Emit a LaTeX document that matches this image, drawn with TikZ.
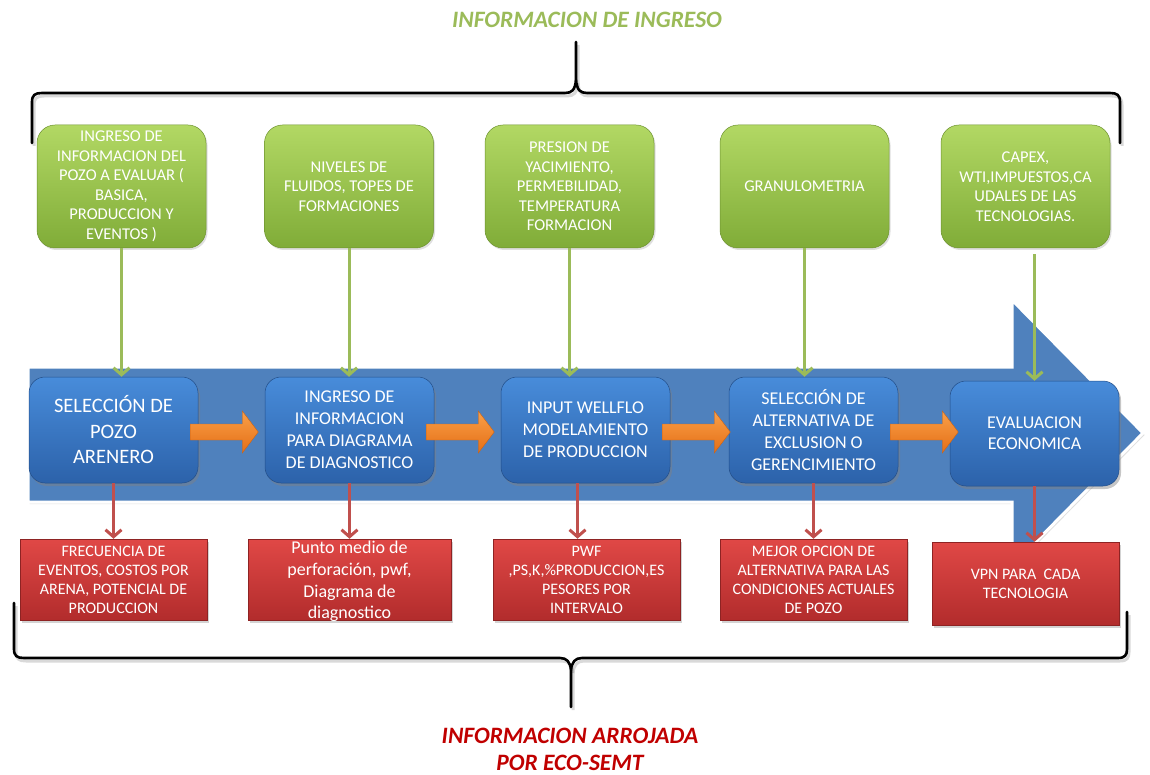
\documentclass[tikz,border=0pt]{standalone}
\usepackage{fontspec}
\setmainfont{Carlito}
\usetikzlibrary{arrows.meta,calc,shadows}
\definecolor{gTop}{RGB}{178,216,100}
\definecolor{gBot}{RGB}{128,172,56}
\definecolor{gLine}{RGB}{155,187,89}
\definecolor{bTop}{RGB}{72,140,218}
\definecolor{bBot}{RGB}{44,98,170}
\definecolor{bigBlue}{RGB}{79,129,189}
\definecolor{rTop}{RGB}{224,72,70}
\definecolor{rBot}{RGB}{178,44,44}
\definecolor{rLine}{RGB}{192,80,77}
\definecolor{oTop}{RGB}{250,160,72}
\definecolor{oBot}{RGB}{228,110,22}
\definecolor{titleGreen}{RGB}{155,187,89}
\definecolor{titleRed}{RGB}{192,0,0}
\begin{document}
\begin{tikzpicture}[x=1pt,y=-1pt,
  greenbox/.style={rounded corners=18pt, top color=gTop, bottom color=gBot,
    draw=gBot!85!black, line width=0.5pt, minimum width=169pt, minimum height=123pt,
    inner sep=0pt, text=white, align=center, font=\fontsize{16.5}{19.5}\selectfont,
    drop shadow={opacity=0.25,shadow xshift=1.5pt,shadow yshift=-2pt}},
  bluebox/.style={rounded corners=16pt, top color=bTop, bottom color=bBot,
    draw=bBot!80!black, line width=0.5pt, minimum width=169pt, minimum height=106pt,
    inner sep=0pt, text=white, align=center, font=\fontsize{18}{22}\selectfont,
    drop shadow={opacity=0.45,shadow xshift=2pt,shadow yshift=-3pt}},
  redbox/.style={top color=rTop, bottom color=rBot, draw=rBot!80!black, line width=0.5pt,
    minimum width=187pt, minimum height=81pt, inner sep=0pt, text=white, align=center,
    font=\fontsize{16}{19}\selectfont,
    drop shadow={opacity=0.35,shadow xshift=2pt,shadow yshift=-3pt}},
  redtext/.style={inner sep=0pt, text=white, align=center},
  garrow/.style={draw=gLine, line width=3pt, -{Straight Barb[length=7pt,width=16pt]}},
  rarrow/.style={draw=rLine, line width=3pt, -{Straight Barb[length=7pt,width=16pt]}},
  orangearrow/.style={top color=oTop, bottom color=oBot, draw=oBot!90!black, line width=0.4pt},
  brace/.style={draw=black, line width=2.6pt, line cap=round, line join=round},
  braceshadow/.style={draw=black, opacity=0.15, line width=3pt},
  titlefont/.style={font=\fontsize{23.5}{28}\selectfont\bfseries\itshape, inner sep=0pt}
]
\useasboundingbox (0,0) rectangle (1150,775);

% titles
\node[titlefont, text=titleGreen] (t1) at (587,20) {INFORMACION DE INGRESO};
\node[titlefont, text=titleRed] (t2) at (570,736) {INFORMACION ARROJADA};
\node[titlefont, text=titleRed] (t3) at (570,763) {POR ECO-SEMT};

% top brace
\begin{scope}[shift={(2,3)}]
\draw[braceshadow] (32,143) -- (32,102) .. controls (32,95) and (35,93) .. (42,93) -- (565,93) .. controls (572,93) and (575,90) .. (576,80) -- (576,42);
\draw[braceshadow] (576,80) .. controls (577,90) and (580,93) .. (587,93) -- (1110,93) .. controls (1117,93) and (1120,95) .. (1120,102) -- (1120,143);
\end{scope}
\draw[brace] (32,143) -- (32,102) .. controls (32,95) and (35,93) .. (42,93) -- (565,93) .. controls (572,93) and (575,90) .. (576,80) -- (576,42);
\draw[brace] (576,80) .. controls (577,90) and (580,93) .. (587,93) -- (1110,93) .. controls (1117,93) and (1120,95) .. (1120,102) -- (1120,143);

% bottom brace
\begin{scope}[shift={(2,3)}]
\draw[braceshadow] (14,603) -- (14,649) .. controls (14,656) and (17,658) .. (24,658) -- (560,658) .. controls (567,658) and (570,662) .. (571,670) -- (571,707);
\draw[braceshadow] (571,670) .. controls (572,662) and (575,658) .. (582,658) -- (1118,658) .. controls (1125,658) and (1127,655) .. (1127,649) -- (1127,612);
\end{scope}
\draw[brace] (14,603) -- (14,649) .. controls (14,656) and (17,658) .. (24,658) -- (560,658) .. controls (567,658) and (570,662) .. (571,670) -- (571,707);
\draw[brace] (571,670) .. controls (572,662) and (575,658) .. (582,658) -- (1118,658) .. controls (1125,658) and (1127,655) .. (1127,649) -- (1127,612);

% big blue arrow
\path[fill=bigBlue, draw=white, line width=3pt, line join=miter,
  drop shadow={opacity=0.25,shadow xshift=1.5pt,shadow yshift=-2pt}]
  (28,367) -- (1012,367) -- (1012,300) -- (1143,433) -- (1012,566) -- (1012,502) -- (28,502) -- cycle;

% green boxes
\node[greenbox] (g1) at (121.5,186.5) {INGRESO DE\\INFORMACION DEL\\POZO A EVALUAR (\\BASICA,\\PRODUCCION Y\\EVENTOS )};
\node[greenbox] (g2) at (349,186.5) {NIVELES DE\\FLUIDOS, TOPES DE\\FORMACIONES};
\node[greenbox] (g3) at (569.5,186.5) {PRESION DE\\YACIMIENTO,\\PERMEBILIDAD,\\TEMPERATURA\\FORMACION};
\node[greenbox] (g4) at (804.5,186.5) {GRANULOMETRIA};
\node[greenbox] (g5) at (1025.5,186.5) {CAPEX,\\WTI,IMPUESTOS,CA\\UDALES DE LAS\\TECNOLOGIAS.};

% blue boxes
\node[bluebox, font=\fontsize{20.5}{25.5}\selectfont] (b1) at (113.5,430) {SELECCIÓN DE\\POZO\\ARENERO};
\node[bluebox] (b2) at (349.5,430) {INGRESO DE\\INFORMACION\\PARA DIAGRAMA\\DE DIAGNOSTICO};
\node[bluebox] (b3) at (585.5,430) {INPUT WELLFLO\\MODELAMIENTO\\DE PRODUCCION};
\node[bluebox] (b4) at (813.5,430) {SELECCIÓN DE\\ALTERNATIVA DE\\EXCLUSION O\\GERENCIMIENTO};
\node[bluebox, minimum height=105pt, font=\fontsize{18}{21}\selectfont] (b5) at (1034.5,433.5) {EVALUACION\\ECONOMICA};

% orange block arrows
\foreach \a/\b in {b1/b2,b2/b3,b3/b4,b4/b5}{
  \path[orangearrow] let \p1=(\a.east), \p2=(\b.west) in
    (\x1-8pt,\y1+6pt) -- (\x1+44pt,\y1+6pt) -- (\x1+44pt,\y1+19pt) -- (\x1+60pt,\y1-2pt)
    -- (\x1+44pt,\y1-23pt) -- (\x1+44pt,\y1-10pt) -- (\x1-8pt,\y1-10pt) -- cycle;
}

% red boxes
\node[redbox] (r1) at (113.5,579.5) {FRECUENCIA DE\\EVENTOS, COSTOS POR\\ARENA, POTENCIAL DE\\PRODUCCION};
\node[redbox, minimum width=203pt] (r2) at (349.5,579.5) {};
\node[redtext, font=\fontsize{18}{21.7}\selectfont] (r2t) at ($(r2.center)+(0,2)$) {Punto medio de\\perforación, pwf,\\Diagrama de\\diagnostico};
\node[redbox] (r3) at (586.5,579.5) {PWF\\,PS,K,\%PRODUCCION,ES\\PESORES POR\\INTERVALO};
\node[redbox] (r4) at (813.5,579.5) {MEJOR OPCION DE\\ALTERNATIVA PARA LAS\\CONDICIONES ACTUALES\\DE POZO};
\node[redbox, minimum height=83pt] (r5) at (1025.5,583.5) {VPN PARA\ \ CADA\\TECNOLOGIA};

% green arrows
\draw[garrow] (g1.south) -- (g1.south |- b1.north);
\draw[garrow] (g2.south) -- (g2.south |- b2.north);
\draw[garrow] (g3.south) -- (g3.south |- b3.north);
\draw[garrow] (g4.south) -- (g4.south |- b4.north);
\draw[garrow] ($(g5.south -| b5.north)+(0,6)$) -- (b5.north);

% red arrows
\draw[rarrow] (b1.south) -- (b1.south |- r1.north);
\draw[rarrow] (b2.south) -- (b2.south |- r2.north);
\draw[rarrow] ($(b3.south)+(-8,0)$) -- ($(b3.south |- r3.north)+(-8,0)$);
\draw[rarrow] (b4.south) -- (b4.south |- r4.north);
\draw[rarrow] (b5.south) -- (b5.south |- r5.north);
\end{tikzpicture}
\end{document}
